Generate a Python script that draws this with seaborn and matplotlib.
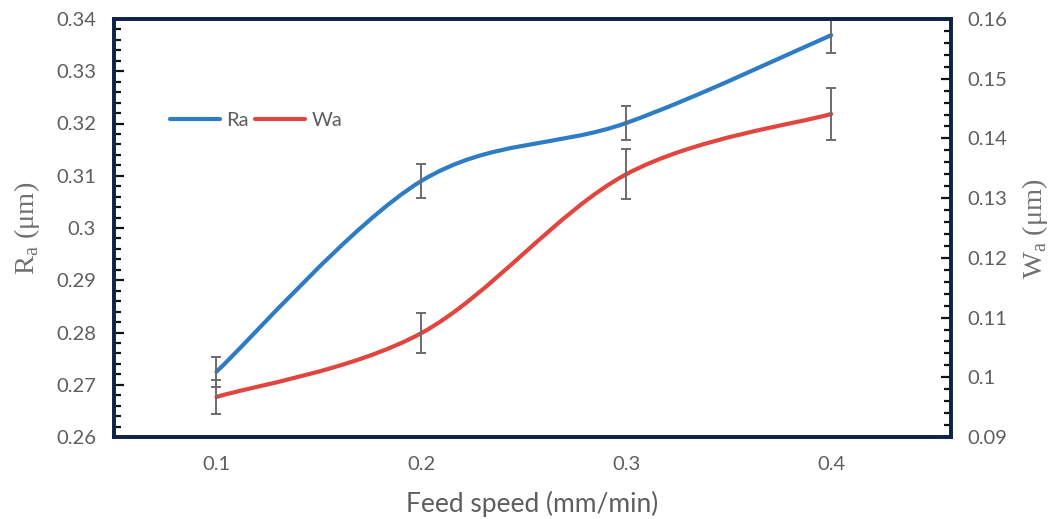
import numpy as np
import matplotlib
matplotlib.use("Agg")
import matplotlib.pyplot as plt
import seaborn as sns
from matplotlib.path import Path
from matplotlib.patches import PathPatch
from matplotlib.lines import Line2D
from matplotlib.ticker import MultipleLocator, FixedLocator

# Measured surface roughness vs feed speed
feed_speed = [0.1, 0.2, 0.3, 0.4]
ra_values = [0.2725, 0.309, 0.3201, 0.3369]
ra_errors = [0.0029, 0.0033, 0.0033, 0.0034]
wa_values = [0.0967, 0.1074, 0.1340, 0.1441]
wa_errors = [0.0028, 0.0033, 0.0042, 0.0044]
series_names = ["Ra", "Wa"]
x_ticks = [0.1, 0.2, 0.3, 0.4]
x_tick_labels = ["0.1", "0.2", "0.3", "0.4"]

RA_COLOR = "#2E7CC4"
WA_COLOR = "#E0463F"
SPINE = "#0E2248"
TEXT = "#5E5E5E"
ERR = "#6B6B6B"

sns.set_theme(style="white")
plt.rcParams["font.family"] = ["Lato", "DejaVu Sans"]
plt.rcParams["mathtext.fontset"] = "custom"
plt.rcParams["mathtext.rm"] = "Liberation Serif"

fig = plt.figure(figsize=(10.59, 5.19), dpi=100)
ax = fig.add_axes([114 / 1059, 82 / 519, 837 / 1059, 418 / 519])
ax2 = ax.twinx()


def smooth_path(xs, ys):
    """Catmull-Rom style smoothed curve expressed as cubic Bezier segments."""
    pts = np.column_stack([xs, ys]).astype(float)
    n = len(pts)
    verts = [pts[0]]
    codes = [Path.MOVETO]
    for i in range(n - 1):
        p_prev = pts[i - 1] if i > 0 else pts[i]
        p_next = pts[i + 2] if i + 2 < n else pts[i + 1]
        c1 = pts[i] + (pts[i + 1] - p_prev) / 6.0
        c2 = pts[i + 1] - (p_next - pts[i]) / 6.0
        verts += [c1, c2, pts[i + 1]]
        codes += [Path.CURVE4] * 3
    return Path(verts, codes)


for axis, xs, ys, errs, color in [
    (ax, feed_speed, ra_values, ra_errors, RA_COLOR),
    (ax2, feed_speed, wa_values, wa_errors, WA_COLOR),
]:
    patch = PathPatch(smooth_path(xs, ys), facecolor="none", edgecolor=color,
                      lw=3.0, transform=axis.transData, zorder=3)
    patch.set_capstyle("round")
    axis.add_patch(patch)
    axis.errorbar(xs, ys, yerr=errs, fmt="none", ecolor=ERR, elinewidth=1.4,
                  capsize=3.8, capthick=1.4, zorder=4)

ax.set_xlim(0.05, 0.4585)
ax.set_ylim(0.26, 0.34)
ax2.set_ylim(0.09, 0.16)

ax.xaxis.set_major_locator(FixedLocator(x_ticks))
ax.set_xticklabels(x_tick_labels)
ax.xaxis.set_minor_locator(FixedLocator([0.15, 0.25, 0.35]))
ax.yaxis.set_major_locator(MultipleLocator(0.01))
ax.yaxis.set_minor_locator(MultipleLocator(0.002))
ax2.yaxis.set_major_locator(MultipleLocator(0.01))
ax2.yaxis.set_minor_locator(MultipleLocator(0.002))
ax.yaxis.set_major_formatter(plt.FuncFormatter(lambda v, p: "0.3" if abs(v - 0.30) < 1e-9 else f"{v:.2f}"))
ax2.yaxis.set_major_formatter(plt.FuncFormatter(lambda v, p: "0.1" if abs(v - 0.10) < 1e-9 else f"{v:.2f}"))

ax.tick_params(axis="x", which="major", direction="in", length=7, width=1.4,
               color="#222222", labelsize=14.5, labelcolor=TEXT, pad=14, top=False)
ax.tick_params(axis="x", which="minor", direction="in", length=4, width=1.4,
               color="#222222", top=False)
ax.tick_params(axis="y", which="major", direction="in", length=7, width=1.6,
               color="#111111", labelsize=14.5, labelcolor=TEXT, pad=13, right=False)
ax.tick_params(axis="y", which="minor", direction="in", length=5, width=1.6,
               color="#111111", right=False)
ax2.tick_params(axis="y", which="major", direction="in", length=7, width=1.6,
                color="#111111", labelsize=14.5, labelcolor=TEXT, pad=12, left=False)
ax2.tick_params(axis="y", which="minor", direction="in", length=5, width=1.6,
                color="#111111", left=False)

for a in (ax, ax2):
    for s in a.spines.values():
        s.set_color(SPINE)
        s.set_linewidth(2.6)
        s.set_visible(True)

ax.set_xlabel("Feed speed (mm/min)", fontsize=19, color=TEXT)
ax.xaxis.set_label_coords(0.5, -0.13)
ax.set_ylabel("R$_\\mathrm{a}$ (μm)", fontsize=20.5, color="#707070",
              family=["Liberation Serif", "DejaVu Serif"])
ax.yaxis.set_label_coords(-0.086, 0.5)
ax2.set_ylabel("W$_\\mathrm{a}$ (μm)", fontsize=20.5, color="#707070",
               family=["Liberation Serif", "DejaVu Serif"], rotation=90)
ax2.yaxis.set_label_coords(1.082, 0.5)

handles = [Line2D([], [], color=RA_COLOR, lw=3.0, solid_capstyle="round"),
           Line2D([], [], color=WA_COLOR, lw=3.0, solid_capstyle="round")]
leg = ax.legend(handles, series_names, loc="center left", bbox_to_anchor=(0.067, 0.758),
                ncol=2, frameon=False, fontsize=14.5, handlelength=2.5,
                handletextpad=0.3, columnspacing=0.3, borderaxespad=0, borderpad=0)
for t in leg.get_texts():
    t.set_color(TEXT)

fig.savefig("out.png", dpi=100, facecolor="white")
